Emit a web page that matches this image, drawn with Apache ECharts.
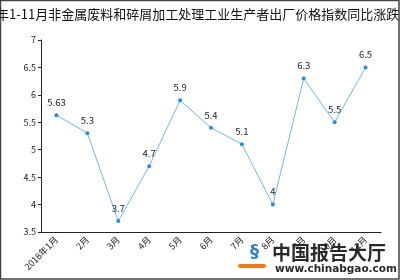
<!DOCTYPE html>
<html>
<head>
<meta charset="utf-8">
<script src="https://cdn.jsdelivr.net/npm/echarts@6/dist/echarts.min.js"></script>
<style>
  html, body { margin: 0; padding: 0; background: #fff; }
  #chart { width: 400px; height: 280px; }
</style>
</head>
<body>
<div id="chart"></div>
<script>
const titleText = '2018年1-11月非金属废料和碎屑加工处理工业生产者出厂价格指数同比涨跌幅(%)'
const months = ['2018年1月', '2月', '3月', '4月', '5月', '6月', '7月', '8月', '9月', '10月', '11月']
const values = [5.63, 5.3, 3.7, 4.7, 5.9, 5.4, 5.1, 4, 6.3, 5.5, 6.5]
const yMin = 3.5
const yMax = 7
const yStep = 0.5

const font = '"Noto Sans CJK SC", "DejaVu Sans", sans-serif'
const chart = echarts.init(document.getElementById('chart'))
chart.setOption({
  animation: false,
  textStyle: { fontFamily: font },
  title: {
    text: titleText,
    left: 'center',
    top: 3,
    textStyle: { fontSize: 13, fontWeight: 'normal', color: '#111', fontFamily: font }
  },
  grid: { left: 41, right: 19, top: 40, bottom: 48 },
  xAxis: {
    type: 'category',
    data: months,
    boundaryGap: true,
    axisLine: { lineStyle: { color: '#222', width: 1 } },
    axisTick: { alignWithLabel: true, length: 3, lineStyle: { color: '#222' } },
    axisLabel: { rotate: 45, fontSize: 9, color: '#222', margin: 6, interval: 0 }
  },
  yAxis: {
    type: 'value',
    min: yMin,
    max: yMax,
    interval: yStep,
    axisLine: { show: true, lineStyle: { color: '#222', width: 1 } },
    axisTick: { show: true, length: 3, lineStyle: { color: '#222' } },
    axisLabel: { fontSize: 9, color: '#222', margin: 5 },
    splitLine: { show: false }
  },
  series: [{
    type: 'line',
    data: values,
    symbol: 'circle',
    symbolSize: 4,
    lineStyle: { color: '#6cb8f0', width: 1 },
    itemStyle: { color: '#2a8be0' },
    label: { show: true, position: 'top', fontSize: 9.5, color: '#222', distance: 6 }
  }],
  graphic: [
    {
      type: 'rect',
      shape: { x: 0.5, y: 0.5, width: 398.5, height: 278.5 },
      style: { fill: 'none', stroke: '#444', lineWidth: 1.5 },
      silent: true
    },
    {
      type: 'text',
      left: 272,
      top: 243,
      style: { text: '中国报告大厅', fontSize: 19, fontWeight: 'bold', fill: '#2a2a2a', fontFamily: font }
    },
    {
      type: 'text',
      left: 275,
      top: 264,
      style: { text: 'www.chinabgao.com', fontSize: 10.5, fontWeight: 'bold', fill: '#2a2a2a', fontFamily: '"DejaVu Sans", sans-serif' }
    },
    {
      type: 'text',
      left: 250,
      top: 243,
      style: { text: '§', fontSize: 18, fontWeight: 'bold', fill: '#2a7fd0', fontFamily: '"DejaVu Sans", sans-serif' }
    },
    {
      type: 'rect',
      shape: { x: 238, y: 264, width: 28, height: 4, r: 2 },
      style: { fill: '#f07820' }
    }
  ]
})
</script>
</body>
</html>
